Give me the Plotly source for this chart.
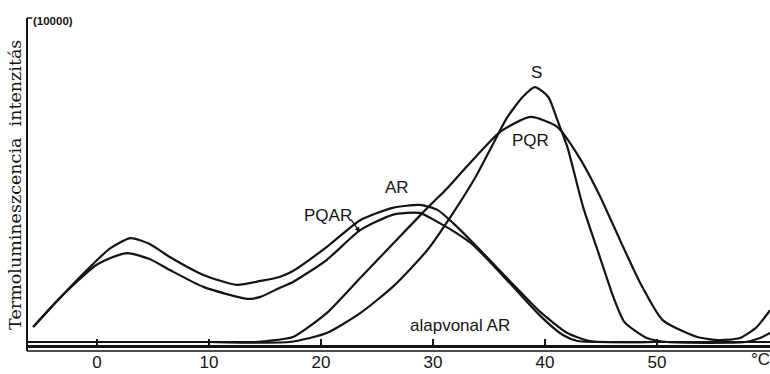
import plotly.graph_objects as go

# Temperature (°C) and thermoluminescence intensity (x10000 counts, relative)
ar_t = [-5.7, -3.3, -0.9, 1.2, 3.0, 4.7, 6.5, 9.5, 12.5, 14.6, 16.3, 17.5, 20.5, 23.5, 26.4, 28.8, 30.4, 31.8, 33.6, 36.6, 39.6, 42.0, 44.0, 50.0, 60.1]
ar_i = [0.45, 1.33, 2.17, 2.83, 3.13, 2.95, 2.56, 2.02, 1.72, 1.84, 1.96, 2.14, 2.86, 3.67, 4.04, 4.13, 3.98, 3.58, 2.98, 1.93, 0.90, 0.27, 0.03, 0.0, 0.0]

pqar_t = [-5.7, -3.3, -0.2, 1.2, 2.7, 4.7, 6.5, 9.5, 13.4, 14.6, 16.3, 17.5, 20.5, 23.5, 26.4, 28.8, 30.6, 32.1, 33.6, 36.6, 39.6, 41.6, 42.9, 50.0, 60.1]
pqar_i = [0.45, 1.33, 2.29, 2.53, 2.68, 2.50, 2.17, 1.66, 1.30, 1.36, 1.63, 1.81, 2.47, 3.37, 3.83, 3.89, 3.58, 3.28, 2.92, 1.87, 0.78, 0.21, 0.03, 0.0, 0.0]

pqr_t = [-6.2, 10.0, 14.1, 15.2, 17.5, 20.5, 23.5, 26.4, 29.5, 31.3, 33.3, 36.0, 38.7, 41.1, 43.1, 44.9, 46.7, 48.5, 50.5, 53.6, 55.6, 57.4, 58.9, 60.1]
pqr_i = [0.0, 0.0, 0.0, 0.03, 0.15, 0.87, 1.93, 2.95, 4.04, 4.64, 5.39, 6.33, 6.78, 6.48, 5.54, 4.40, 3.07, 1.78, 0.66, 0.15, 0.06, 0.12, 0.45, 0.96]

s_t = [-6.2, 10.0, 17.2, 20.5, 23.5, 26.4, 29.5, 31.8, 33.8, 35.4, 36.6, 38.0, 39.1, 40.3, 41.1, 42.0, 43.4, 44.9, 46.1, 47.1, 49.1, 50.9, 57.9, 59.2, 60.1]
s_i = [0.0, 0.0, 0.0, 0.27, 0.87, 1.66, 2.77, 3.89, 4.97, 5.99, 6.75, 7.38, 7.68, 7.38, 6.69, 5.87, 4.07, 2.56, 1.36, 0.60, 0.12, 0.0, 0.0, 0.12, 0.27]

tick_vals = [0, 10, 20, 30, 40, 50]
tick_text = ["0", "10", "20", "30", "40", "50"]

INK = "#141414"
SANS = "Liberation Sans Narrow, Liberation Sans, Arial, sans-serif"

fig = go.Figure()
for t, i, name in [(ar_t, ar_i, "AR"), (pqar_t, pqar_i, "PQAR"),
                   (pqr_t, pqr_i, "PQR"), (s_t, s_i, "S")]:
    fig.add_trace(go.Scatter(
        x=t, y=i, mode="lines", name=name,
        line=dict(color=INK, width=2.2, shape="spline", smoothing=0.6),
        hoverinfo="skip", showlegend=False))

# curve labels
for txt, x, y in [("S", 39.2, 8.13), ("PQR", 38.7, 6.08), ("AR", 26.8, 4.64),
                  ("PQAR", 20.6, 3.8), ("alapvonal AR", 32.4, 0.51)]:
    fig.add_annotation(x=x, y=y, text=txt, showarrow=False,
                       font=dict(family=SANS, size=17, color=INK))

# small arrow from the PQAR label to its curve
fig.add_annotation(x=23.48, y=3.31, text="", showarrow=True, arrowhead=2,
                   arrowsize=0.8, arrowwidth=1.3, arrowcolor=INK,
                   ax=-10, ay=-14, axref="pixel", ayref="pixel")

# unit label and axis title
fig.add_annotation(xref="paper", yref="paper", x=0.005, y=0.99,
                   xanchor="left", yanchor="middle", text="<b>(10000)</b>",
                   showarrow=False,
                   font=dict(family="Liberation Sans, Arial", size=11.5, color=INK))
fig.add_annotation(xref="paper", yref="paper", x=-0.016, y=0.49,
                   xanchor="center", yanchor="middle", textangle=-90,
                   text="Termolumineszcencia\u00a0\u00a0intenzitás", showarrow=False,
                   font=dict(family="DejaVu Serif, Liberation Serif, serif", size=17.5, color=INK))
fig.add_annotation(xref="paper", yref="paper", x=0.987, y=-0.045,
                   xanchor="center", yanchor="middle", text="°C", showarrow=False,
                   font=dict(family=SANS, size=17, color=INK))

# second (thin) rule under the temperature axis, and the top tick of the intensity axis
fig.add_shape(type="line", xref="paper", yref="paper", x0=0, x1=1, y0=-0.018, y1=-0.018,
              line=dict(color=INK, width=1.5))
fig.add_shape(type="line", xref="paper", yref="paper", x0=0, x1=0, y0=-0.018, y1=1,
              line=dict(color=INK, width=2))
fig.add_shape(type="line", xref="paper", yref="paper", x0=0, x1=0.007, y0=1, y1=1,
              line=dict(color=INK, width=1.5))

fig.update_layout(
    width=770, height=374,
    margin=dict(l=27, r=0, t=18, b=29),
    paper_bgcolor="white", plot_bgcolor="white",
    xaxis=dict(range=[-6.25, 60.09], showgrid=False, zeroline=False,
               showline=True, linewidth=3, linecolor=INK,
               ticks="inside", ticklen=6, tickwidth=1.5, tickcolor=INK,
               tickvals=tick_vals, ticktext=tick_text,
               tickfont=dict(family=SANS, size=17, color=INK)),
    yaxis=dict(range=[-0.09, 9.76], showgrid=False, zeroline=False,
               showline=False, showticklabels=False, ticks=""),
)

fig.write_html("out.html")
